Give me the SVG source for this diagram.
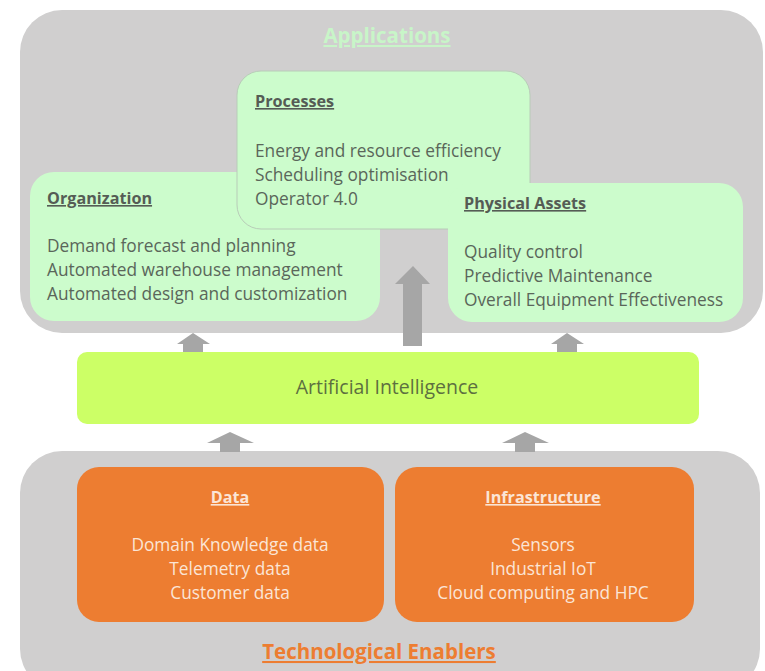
<svg xmlns="http://www.w3.org/2000/svg" width="765" height="671" viewBox="0 0 765 671">
<style>
.cont{fill:#d0cfcf}
.gbox{fill:#ccfccc}
.gt{font-family:"Open Sans",sans-serif;font-size:17.3px;fill:#5a665a}
.gh{font-family:"Open Sans",sans-serif;font-size:16.2px;font-weight:bold;fill:#555c55;text-decoration:underline}
.ob{fill:#ed7d31}
.ot{font-family:"Open Sans",sans-serif;font-size:17.3px;fill:#fbe5d6;text-anchor:middle}
.oh{font-family:"Open Sans",sans-serif;font-size:16.2px;font-weight:bold;fill:#fbe5d6;text-anchor:middle;text-decoration:underline}
.arr{fill:#a6a6a6}
</style>
<rect width="765" height="671" fill="#ffffff"/>
<g id="applications">
<rect class="cont" x="20" y="10" width="743" height="323" rx="42"/>
<text x="387" y="43" text-anchor="middle" font-family="Open Sans, sans-serif" font-size="20.5" font-weight="bold" fill="#c8f5c8" text-decoration="underline">Applications</text>
</g>
<g id="organization">
<rect class="gbox" x="30" y="172" width="350" height="149" rx="24"/>
<text class="gh" x="47" y="204">Organization</text>
<text class="gt" x="47" y="252">Demand forecast and planning</text>
<text class="gt" x="47" y="276">Automated warehouse management</text>
<text class="gt" x="47" y="300">Automated design and customization</text>
</g>
<g id="processes">
<rect class="gbox" x="237" y="71" width="293" height="158" rx="24" stroke="#b8ccb8" stroke-width="1"/>
<text class="gh" x="255" y="107">Processes</text>
<text class="gt" x="255" y="157">Energy and resource efficiency</text>
<text class="gt" x="255" y="181">Scheduling optimisation</text>
<text class="gt" x="255" y="205">Operator 4.0</text>
</g>
<g id="physical-assets">
<rect class="gbox" x="448" y="183" width="295" height="139" rx="24"/>
<text class="gh" x="464" y="209">Physical Assets</text>
<text class="gt" x="464" y="258">Quality control</text>
<text class="gt" x="464" y="282">Predictive Maintenance</text>
<text class="gt" x="464" y="306">Overall Equipment Effectiveness</text>
</g>
<g id="ai">
<rect x="77" y="352" width="622" height="72" rx="10" fill="#ccff66"/>
<text x="387" y="394" text-anchor="middle" font-family="Open Sans, sans-serif" font-size="19.5" fill="#5d7040">Artificial Intelligence</text>
</g>
<g id="enablers">
<rect class="cont" x="20" y="451" width="740" height="240" rx="42"/>
<text x="379" y="659" text-anchor="middle" font-family="Open Sans, sans-serif" font-size="20.5" font-weight="bold" fill="#ed7d31" text-decoration="underline">Technological Enablers</text>
</g>
<g id="data">
<rect class="ob" x="77" y="467" width="307" height="155" rx="22"/>
<text class="oh" x="230" y="503">Data</text>
<text class="ot" x="230" y="551">Domain Knowledge data</text>
<text class="ot" x="230" y="575">Telemetry data</text>
<text class="ot" x="230" y="599">Customer data</text>
</g>
<g id="infrastructure">
<rect class="ob" x="395" y="467" width="299" height="155" rx="22"/>
<text class="oh" x="543" y="503">Infrastructure</text>
<text class="ot" x="543" y="551">Sensors</text>
<text class="ot" x="543" y="575">Industrial IoT</text>
<text class="ot" x="543" y="599">Cloud computing and HPC</text>
</g>
<g id="connectors">
<polygon class="arr" points="177,344 193,333 210,344 203,344 203,352 183,352 183,344"/>
<polygon class="arr" points="551,344 567,333 584,344 577,344 577,352 557,352 557,344"/>
<polygon class="arr" points="395,284 413,266 430,284 422,284 422,346 403,346 403,284"/>
<polygon class="arr" points="207,443 230,432 254,443 240,443 240,452 220,452 220,443"/>
<polygon class="arr" points="502,443 525,432 549,443 535,443 535,452 515,452 515,443"/>
</g>
</svg>
